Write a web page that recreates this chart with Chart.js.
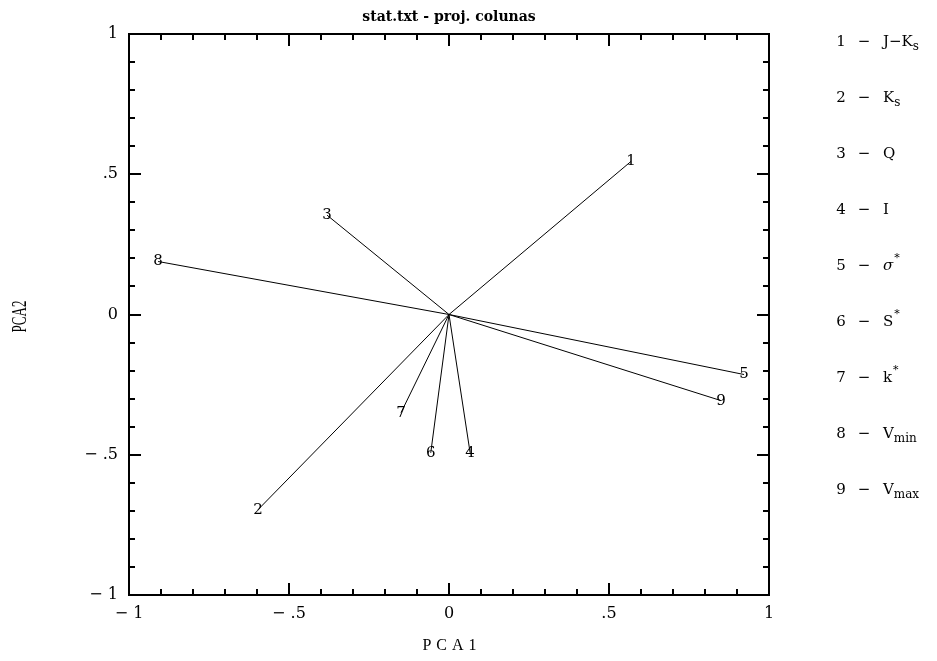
<!DOCTYPE html>
<html>
<head>
<meta charset="utf-8">
<script src="https://cdn.jsdelivr.net/npm/chart.js@4.4.1/dist/chart.umd.min.js"></script>
<style>
  html, body { margin: 0; padding: 0; background: #fff; }
  #wrap { width: 937px; height: 661px; position: relative; }
</style>
</head>
<body>
<div id="wrap"><canvas id="pcaChart"></canvas></div>
<script>
// data
const varLabels = ["1", "2", "3", "4", "5", "6", "7", "8", "9"];
const pca1 = [0.569, -0.597, -0.381, 0.066, 0.922, -0.057, -0.150, -0.909, 0.850];
const pca2 = [0.546, -0.696, 0.354, -0.493, -0.214, -0.493, -0.350, 0.189, -0.307];
const axisTicks = [-1, -0.5, 0, 0.5, 1];

// legend: [text, mode] pieces, mode n = normal, b = subscript, p = superscript, i = italic
const legendNames = [
  [["J\u2212K", "n"], ["s", "b"]],
  [["K", "n"], ["s", "b"]],
  [["Q", "n"]],
  [["I", "n"]],
  [["\u03c3", "i"], ["*", "p"]],
  [["S", "n"], ["*", "p"]],
  [["k", "n"], ["*", "p"]],
  [["V", "n"], ["min", "b"]],
  [["V", "n"], ["max", "b"]],
];

const SERIF = '"DejaVu Serif", "Liberation Serif", serif';
const NARROW = '"Liberation Serif", serif';

function fmtTick(v) {
  if (v === 0) return "0";
  const s = String(Math.abs(v)).replace(/^0/, "");
  return v < 0 ? "\u2212 " + s : s;
}

// frame, inward ticks, point labels, titles and the side legend
const decorations = {
  id: "decorations",
  afterDraw(chart) {
    const { ctx, chartArea: a, scales } = chart;
    const xs = scales.x, ys = scales.y;
    ctx.save();
    ctx.strokeStyle = "#000";
    ctx.fillStyle = "#000";

    // box
    ctx.lineWidth = 2;
    ctx.strokeRect(a.left, a.top, a.right - a.left, a.bottom - a.top);

    // ticks every 0.1, longer every 0.5
    ctx.beginPath();
    for (let i = -10; i <= 10; i++) {
      const len = i % 5 === 0 ? 12 : 6;
      const px = Math.round(xs.getPixelForValue(i / 10));
      const py = Math.round(ys.getPixelForValue(i / 10));
      ctx.moveTo(px, a.bottom); ctx.lineTo(px, a.bottom - len);
      ctx.moveTo(px, a.top); ctx.lineTo(px, a.top + len);
      ctx.moveTo(a.left, py); ctx.lineTo(a.left + len, py);
      ctx.moveTo(a.right, py); ctx.lineTo(a.right - len, py);
    }
    ctx.stroke();

    // numbers at vector tips
    ctx.font = "15px " + SERIF;
    ctx.textAlign = "center";
    ctx.textBaseline = "middle";
    varLabels.forEach((lab, i) => {
      ctx.fillText(lab, xs.getPixelForValue(pca1[i]), ys.getPixelForValue(pca2[i]));
    });

    // title
    ctx.font = 'bold 14px "DejaVu Serif", serif';
    ctx.fillText("stat.txt - proj. colunas", (a.left + a.right) / 2, 17);

    // x title
    ctx.font = "16px " + NARROW;
    ctx.letterSpacing = "5px";
    ctx.fillText("PCA1", (a.left + a.right) / 2 + 3, 646);
    ctx.letterSpacing = "0px";

    // y title, narrow
    ctx.save();
    ctx.translate(21, (a.top + a.bottom) / 2 + 2);
    ctx.rotate(-Math.PI / 2);
    ctx.scale(0.65, 1);
    ctx.font = "20px " + NARROW;
    ctx.fillText("PCA2", 0, 0);
    ctx.restore();

    // legend
    ctx.textBaseline = "alphabetic";
    legendNames.forEach((parts, i) => {
      const base = 46 + i * 56;
      ctx.font = "15px " + SERIF;
      ctx.textAlign = "center";
      ctx.fillText(varLabels[i], 841, base);
      ctx.fillText("\u2212", 864, base);
      ctx.textAlign = "left";
      let x = 883;
      parts.forEach(([t, m]) => {
        let dy = 0;
        if (m === "n") ctx.font = "15px " + SERIF;
        if (m === "i") ctx.font = "italic 15px " + SERIF;
        if (m === "b") { ctx.font = "12px " + SERIF; dy = 4; }
        if (m === "p") { ctx.font = "11px " + SERIF; dy = -9; x += 1; }
        ctx.fillText(t, x, base + dy);
        x += ctx.measureText(t).width;
      });
    });
    ctx.restore();
  },
};

const datasets = varLabels.map((lab, i) => ({
  label: lab,
  data: [{ x: 0, y: 0 }, { x: pca1[i], y: pca2[i] }],
  showLine: true,
  borderColor: "#000",
  borderWidth: 1,
  pointRadius: 0,
  fill: false,
}));

function axis(side, fit) {
  return {
    type: "linear",
    position: side,
    min: -1,
    max: 1,
    afterBuildTicks: (s) => { s.ticks = axisTicks.map((v) => ({ value: v })); },
    afterFit: fit,
    grid: { display: false, drawTicks: false },
    border: { display: false },
    ticks: {
      callback: fmtTick,
      color: "#000",
      font: { family: SERIF, size: 16 },
      padding: side === "left" ? 11 : 9,
      maxRotation: 0,
      autoSkip: false,
    },
  };
}

new Chart(document.getElementById("pcaChart"), {
  type: "scatter",
  data: { datasets },
  options: {
    responsive: true,
    maintainAspectRatio: false,
    animation: false,
    layout: { padding: { top: 34, right: 168, bottom: 0, left: 0 } },
    plugins: { legend: { display: false }, tooltip: { enabled: false } },
    scales: {
      x: axis("bottom", (s) => { s.height = 66; }),
      y: axis("left", (s) => { s.width = 129; }),
    },
  },
  plugins: [decorations],
});
</script>
</body>
</html>
